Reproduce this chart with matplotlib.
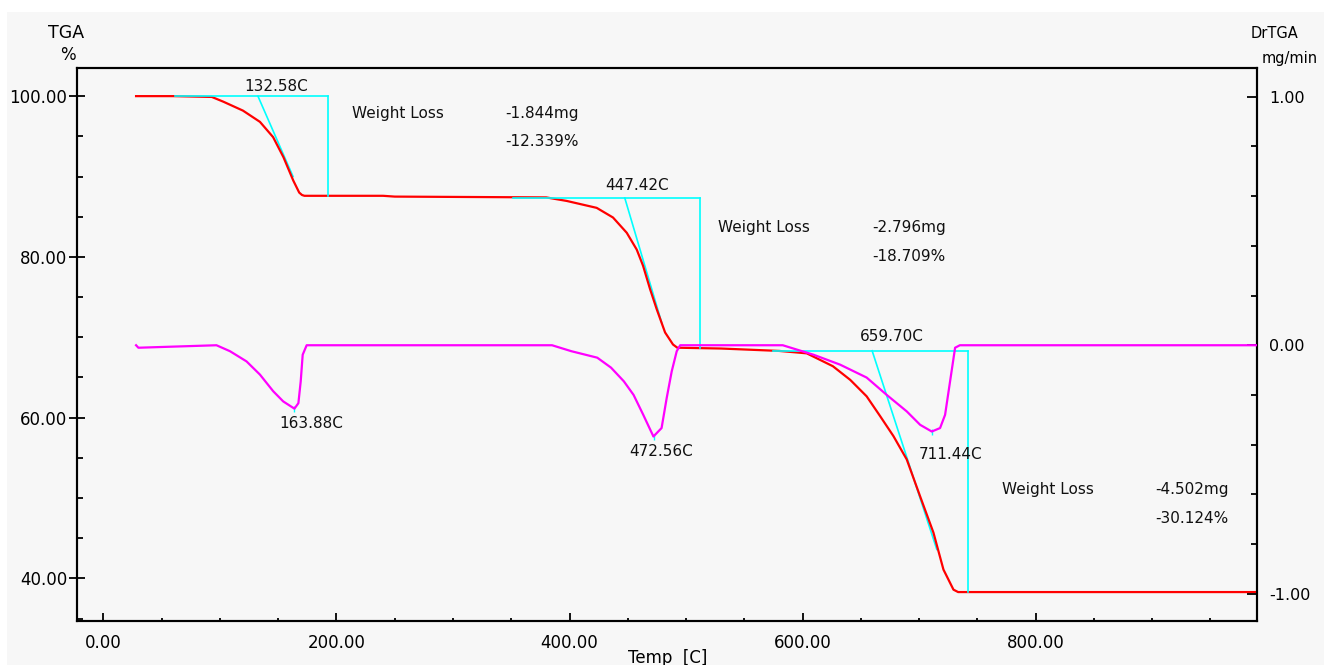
import numpy as np
import matplotlib
matplotlib.use('Agg')
from matplotlib import pyplot as plt
from matplotlib.patches import Rectangle
from matplotlib.ticker import MultipleLocator, FormatStrFormatter

# TGA curve (temperature C, weight %)
tga_temp = [28, 60, 93, 103, 119.7, 134.3, 145.6, 154.5, 162.9, 168.0, 170.4, 172.5,
            240, 250, 380, 397.6, 423.3, 437.3, 449.1, 457.7, 463.1, 469.1, 474.8,
            482.0, 488.8, 492.5, 530, 580, 603.6, 626, 640.9, 655, 666.5, 678, 689.4,
            700.9, 712.3, 720.9, 729.5, 733.5, 990]
tga_pct = [100.0, 100.0, 99.9, 99.3, 98.2, 96.8, 94.9, 92.4, 89.5, 88.0, 87.7, 87.6,
           87.6, 87.5, 87.4, 86.96, 86.1, 84.9, 83.0, 80.9, 78.9, 76.0, 73.5,
           70.6, 69.1, 68.7, 68.6, 68.3, 68.0, 66.4, 64.7, 62.65, 60.2, 57.7, 54.8,
           50.2, 45.7, 41.1, 38.6, 38.3, 38.3]

# DrTGA curve (temperature C, mg/min)
dtg_temp = [28, 30, 97, 108.6, 122.8, 134.3, 145.7, 154.3, 163.9, 167.3, 169.3, 171.0,
            174.4, 385, 401.6, 423.8, 435.6, 446.6, 455.0, 463.3, 472.0, 479.0, 483.4,
            487.7, 492.0, 495.0, 583, 609.3, 632.2, 655, 672.3, 689.4, 700.9, 710.9,
            718.0, 722.3, 726.6, 730.9, 735, 990]
dtg_val = [0.0, -0.01, 0.0, -0.024, -0.065, -0.118, -0.185, -0.226, -0.255, -0.233, -0.145,
           -0.038, 0.0, 0.0, -0.024, -0.05, -0.09, -0.145, -0.2, -0.28, -0.367, -0.333,
           -0.212, -0.105, -0.024, 0.0, 0.0, -0.038, -0.078, -0.13, -0.2, -0.266, -0.32,
           -0.347, -0.333, -0.28, -0.145, -0.01, 0.0, 0.0]

# onset constructions: (baseline start, onset, tangent end x, tangent end y, vertical x, level, end level)
base_start = [61.4, 351.6, 574.3]
onset_temp = [132.58, 447.42, 659.70]
onset_label = ['132.58C', '447.42C', '659.70C']
tan_end_x = [162.7, 479.1, 715.2]
tan_end_y = [90.0, 71.8, 43.6]
vert_x = [192.7, 512.0, 742.3]
level_top = [100.0, 87.33, 68.32]
level_bot = [87.6, 68.7, 38.3]

peak_temp = [163.88, 472.56, 711.44]
peak_val = [-0.255, -0.367, -0.347]
peak_label = ['163.88C', '472.56C', '711.44C']

loss_mg = ['-1.844mg', '-2.796mg', '-4.502mg']
loss_pct = ['-12.339%', '-18.709%', '-30.124%']

W, H = 1324, 665
fig = plt.figure(figsize=(W / 100, H / 100), dpi=100, facecolor='white')
fig.patches.append(Rectangle((7 / W, 0), 1 - 7 / W, 1 - 12 / H, transform=fig.transFigure,
                             facecolor='#f7f7f7', edgecolor='none', zorder=-10))

ax = fig.add_axes([77 / W, 1 - 621 / H, (1257 - 77) / W, (621 - 68) / H])
ax.set_facecolor('#f7f7f7')
ax2 = ax.twinx()

ax.plot(tga_temp, tga_pct, color='#ff0000', lw=1.6, zorder=3)
ax2.plot(dtg_temp, dtg_val, color='#ff00ff', lw=1.6, zorder=3)

for i in range(3):
    ax.plot([base_start[i], vert_x[i]], [level_top[i], level_top[i]], color='#00ffff', lw=1.2, zorder=4)
    ax.plot([vert_x[i], vert_x[i]], [level_top[i], level_bot[i]], color='#00ffff', lw=1.2, zorder=4)
    ax.plot([onset_temp[i], tan_end_x[i]], [level_top[i], tan_end_y[i]], color='#00ffff', lw=1.2, zorder=2)
    ax2.plot([peak_temp[i]], [peak_val[i]], marker='|', color='#00ffff', ms=4, mew=1)

ax.set_xlim(-22.7, 990)
ax.set_ylim(34.7, 103.5)
ax2.set_ylim(-1.109, 1.115)

ax.xaxis.set_major_locator(MultipleLocator(200))
ax.xaxis.set_minor_locator(MultipleLocator(50))
ax.xaxis.set_major_formatter(FormatStrFormatter('%.2f'))
ax.yaxis.set_major_locator(MultipleLocator(20))
ax.yaxis.set_minor_locator(MultipleLocator(5))
ax.yaxis.set_major_formatter(FormatStrFormatter('%.2f'))
ax2.yaxis.set_major_locator(MultipleLocator(1))
ax2.yaxis.set_minor_locator(MultipleLocator(0.2))
ax2.yaxis.set_major_formatter(FormatStrFormatter('%.2f'))

ax.tick_params(axis='x', which='major', direction='in', length=6, width=1.3, pad=9, labelsize=12)
ax.tick_params(axis='x', which='minor', direction='in', length=2.5, width=1.3)
ax.tick_params(axis='x', top=False, which='both')
ax.tick_params(axis='y', which='major', direction='inout', length=12, width=1.3, pad=1, labelsize=12)
ax.tick_params(axis='y', which='minor', direction='in', length=4, width=1.3)
ax2.tick_params(axis='y', which='major', direction='in', length=7, width=1.3, pad=9, labelsize=11.5)
ax2.tick_params(axis='y', which='minor', direction='in', length=4, width=1.3)

for a in (ax, ax2):
    for s in a.spines.values():
        s.set_linewidth(1.5)
        s.set_color('black')

tfont = dict(fontsize=11, color='#111111')
for i in range(3):
    ax.text((onset_temp[i] + tan_end_x[i]) / 2 * 0 + [147.9, 458.1, 677.0][i], [101.24, 88.94, 70.1][i],
            onset_label[i], ha='center', va='center', **tfont)
    ax2.text([178.0, 478.5, 727.0][i], [-0.255, -0.37, -0.36][i] - 0.09 * 0 + [-0.06, -0.058, -0.078][i],
             peak_label[i], ha='center', va='center', **tfont)

wl_x = [213.3, 527.5, 771.0]
wl_y = [97.9, 83.6, 51.06]
mg_x = [345.2, 659.6, 902.6]
pct_y = [94.3, 80.0, 47.4]
for i in range(3):
    ax.text(wl_x[i], wl_y[i], 'Weight Loss', ha='left', va='center', **tfont)
    ax.text(mg_x[i], wl_y[i], loss_mg[i], ha='left', va='center', **tfont)
    ax.text(mg_x[i], pct_y[i], loss_pct[i], ha='left', va='center', **tfont)

fig.text(66 / W, 1 - 33 / H, 'TGA', ha='center', va='center', fontsize=12.5)
fig.text(68 / W, 1 - 55 / H, '%', ha='center', va='center', fontsize=12)
fig.text(1274 / W, 1 - 33 / H, 'DrTGA', ha='center', va='center', fontsize=10.5)
fig.text(1290 / W, 1 - 58 / H, 'mg/min', ha='center', va='center', fontsize=10.5)
fig.text(668 / W, 1 - 658 / H, 'Temp  [C]', ha='center', va='center', fontsize=12)

fig.savefig('out.png', dpi=100, facecolor=fig.get_facecolor())
